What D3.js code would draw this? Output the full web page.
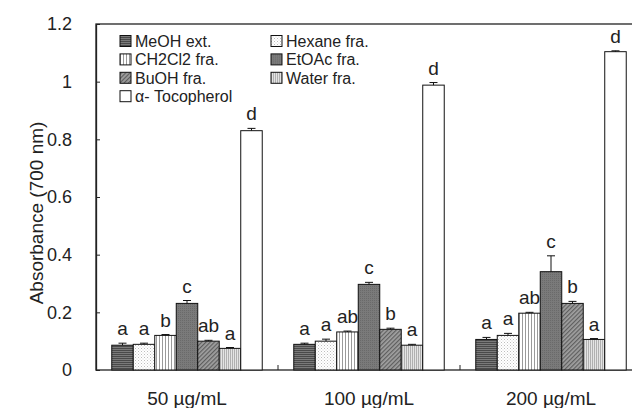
<!DOCTYPE html>
<html>
<head>
<meta charset="utf-8">
<script src="https://cdn.jsdelivr.net/npm/d3@7"></script>
<style>
  body { margin: 0; background: #fff; }
  svg text { font-family: "Liberation Sans", Arial, sans-serif; fill: #222; }
</style>
</head>
<body>
<div id="chart"></div>
<script>
// doses on the x axis
var groups = ["50 µg/mL", "100 µg/mL", "200 µg/mL"];
var series = ["MeOH ext.", "Hexane fra.", "CH2Cl2 fra.", "EtOAc fra.", "BuOH fra.", "Water fra.", "α- Tocopherol"];

// absorbance means (one value per dose)
var meoh   = [0.086, 0.089, 0.106];
var hexane = [0.089, 0.100, 0.120];
var ch2cl2 = [0.120, 0.132, 0.197];
var etoac  = [0.231, 0.297, 0.341];
var buoh   = [0.100, 0.141, 0.231];
var water  = [0.075, 0.086, 0.106];
var toco   = [0.830, 0.988, 1.104];

// standard deviations
var meohErr   = [0.007, 0.004, 0.007];
var hexaneErr = [0.004, 0.007, 0.007];
var ch2cl2Err = [0.003, 0.003, 0.003];
var etoacErr  = [0.010, 0.007, 0.055];
var buohErr   = [0.003, 0.004, 0.007];
var waterErr  = [0.003, 0.003, 0.003];
var tocoErr   = [0.008, 0.009, 0.003];

// significance letters
var meohSig   = ["a", "a", "a"];
var hexaneSig = ["a", "a", "a"];
var ch2cl2Sig = ["b", "ab", "ab"];
var etoacSig  = ["c", "c", "c"];
var buohSig   = ["ab", "b", "b"];
var waterSig  = ["a", "a", "a"];
var tocoSig   = ["d", "d", "d"];

var yTicks = [0, 0.2, 0.4, 0.6, 0.8, 1.0, 1.2];

var values = [meoh, hexane, ch2cl2, etoac, buoh, water, toco];
var errs = [meohErr, hexaneErr, ch2cl2Err, etoacErr, buohErr, waterErr, tocoErr];
var sigs = [meohSig, hexaneSig, ch2cl2Sig, etoacSig, buohSig, waterSig, tocoSig];
var fills = ["url(#pMeoh)", "url(#pHex)", "url(#pCh)", "url(#pEt)", "url(#pBu)", "url(#pWa)", "#fff"];

var width = 632, height = 408;
var margin = {top: 24, left: 96, bottom: 38};
var plotRight = 642;

var svg = d3.select("#chart").append("svg")
    .attr("width", width).attr("height", height);

// fill patterns
var defs = svg.append("defs");
var p = defs.append("pattern").attr("id", "pMeoh").attr("patternUnits", "userSpaceOnUse")
    .attr("width", 4).attr("height", 2);
p.append("rect").attr("width", 4).attr("height", 2).attr("fill", "#7a7a7a");
p.append("rect").attr("width", 4).attr("height", 1).attr("fill", "#4a4a4a");

p = defs.append("pattern").attr("id", "pHex").attr("patternUnits", "userSpaceOnUse")
    .attr("width", 3).attr("height", 3);
p.append("rect").attr("width", 3).attr("height", 3).attr("fill", "#fff");
p.append("rect").attr("width", 1).attr("height", 1).attr("fill", "#bdbdbd");
p.append("rect").attr("x", 1.5).attr("y", 1.5).attr("width", 1).attr("height", 1).attr("fill", "#d6d6d6");

p = defs.append("pattern").attr("id", "pCh").attr("patternUnits", "userSpaceOnUse")
    .attr("width", 3).attr("height", 4);
p.append("rect").attr("width", 3).attr("height", 4).attr("fill", "#fff");
p.append("rect").attr("width", 1).attr("height", 4).attr("fill", "#9a9a9a");

p = defs.append("pattern").attr("id", "pEt").attr("patternUnits", "userSpaceOnUse")
    .attr("width", 2).attr("height", 2);
p.append("rect").attr("width", 2).attr("height", 2).attr("fill", "#7a7a7a");
p.append("rect").attr("width", 1).attr("height", 1).attr("fill", "#6a6a6a");

p = defs.append("pattern").attr("id", "pBu").attr("patternUnits", "userSpaceOnUse")
    .attr("width", 3).attr("height", 3).attr("patternTransform", "rotate(45)");
p.append("rect").attr("width", 3).attr("height", 3).attr("fill", "#a0a0a0");
p.append("rect").attr("width", 1.2).attr("height", 3).attr("fill", "#5e5e5e");

p = defs.append("pattern").attr("id", "pWa").attr("patternUnits", "userSpaceOnUse")
    .attr("width", 2).attr("height", 4);
p.append("rect").attr("width", 2).attr("height", 4).attr("fill", "#e4e4e4");
p.append("rect").attr("width", 1).attr("height", 4).attr("fill", "#b0b0b0");

var y = d3.scaleLinear().domain([0, 1.2]).range([height - margin.bottom, margin.top]);
var x0 = d3.scaleBand().domain(groups).range([margin.left, plotRight]);
var x1 = d3.scaleBand().domain(series).range([0, x0.bandwidth()])
    .paddingInner(0).paddingOuter(0.733);

// frame
svg.append("rect")
    .attr("x", margin.left).attr("y", margin.top)
    .attr("width", plotRight - margin.left).attr("height", y(0) - margin.top)
    .attr("fill", "none").attr("stroke", "#222").attr("stroke-width", 1.3);

// y axis
var ya = svg.append("g")
    .attr("transform", "translate(" + margin.left + ",0)")
    .call(d3.axisLeft(y).tickValues(yTicks).tickSizeInner(-4).tickSizeOuter(0).tickPadding(24)
        .tickFormat(function(d){ return String(+d.toFixed(1)); }));
ya.select(".domain").attr("stroke", "#222").attr("stroke-width", 1.3);
ya.selectAll(".tick line").attr("stroke", "#222");
ya.selectAll("text").attr("font-size", 18).attr("fill", "#222");

// x axis ticks between groups
svg.append("g").selectAll("line")
    .data(groups.slice(1)).enter().append("line")
    .attr("x1", function(d){ return x0(d); }).attr("x2", function(d){ return x0(d); })
    .attr("y1", y(0)).attr("y2", y(0) - 5)
    .attr("stroke", "#222");

svg.append("g").selectAll("text")
    .data(groups).enter().append("text")
    .attr("x", function(d){ return x0(d) + x0.bandwidth() / 2; })
    .attr("y", 405)
    .attr("text-anchor", "middle").attr("font-size", 19)
    .text(function(d){ return d; });

svg.append("text")
    .attr("transform", "translate(43," + 213 + ") rotate(-90)")
    .attr("text-anchor", "middle").attr("font-size", 19)
    .text("Absorbance (700 nm)");

// bars
var rows = [];
series.forEach(function(s, i){
    groups.forEach(function(g, j){
        rows.push({s: s, g: g, v: values[i][j], e: errs[i][j], sig: sigs[i][j], fill: fills[i]});
    });
});

var bars = svg.append("g").selectAll("g.bar").data(rows).enter().append("g").attr("class", "bar");

bars.append("rect")
    .attr("x", function(d){ return x0(d.g) + x1(d.s); })
    .attr("y", function(d){ return y(d.v); })
    .attr("width", x1.bandwidth())
    .attr("height", function(d){ return y(0) - y(d.v); })
    .attr("fill", function(d){ return d.fill; })
    .attr("stroke", "#111").attr("stroke-width", 1);

bars.append("line")
    .attr("x1", function(d){ return x0(d.g) + x1(d.s) + x1.bandwidth() / 2; })
    .attr("x2", function(d){ return x0(d.g) + x1(d.s) + x1.bandwidth() / 2; })
    .attr("y1", function(d){ return y(d.v); })
    .attr("y2", function(d){ return y(d.v + d.e); })
    .attr("stroke", "#111");
bars.append("line")
    .attr("x1", function(d){ return x0(d.g) + x1(d.s) + x1.bandwidth() / 2 - 4; })
    .attr("x2", function(d){ return x0(d.g) + x1(d.s) + x1.bandwidth() / 2 + 4; })
    .attr("y1", function(d){ return y(d.v + d.e); })
    .attr("y2", function(d){ return y(d.v + d.e); })
    .attr("stroke", "#111");

bars.append("text")
    .attr("x", function(d){ return x0(d.g) + x1(d.s) + x1.bandwidth() / 2; })
    .attr("y", function(d){ return y(d.v + d.e) - 8; })
    .attr("text-anchor", "middle").attr("font-size", 19)
    .text(function(d){ return d.sig; });

// legend, two columns row by row
var leg = svg.append("g").selectAll("g").data(series).enter().append("g")
    .attr("transform", function(d, i){
        return "translate(" + (i % 2 ? 271 : 120) + "," + (41 + Math.floor(i / 2) * 18.4) + ")";
    });
leg.append("rect")
    .attr("x", 0).attr("y", -5.5).attr("width", 11).attr("height", 11)
    .attr("fill", function(d, i){ return fills[i]; })
    .attr("stroke", "#111").attr("stroke-width", 1);
leg.append("text")
    .attr("x", 15).attr("y", 6)
    .attr("font-size", 16)
    .text(function(d){ return d; });
</script>
</body>
</html>
